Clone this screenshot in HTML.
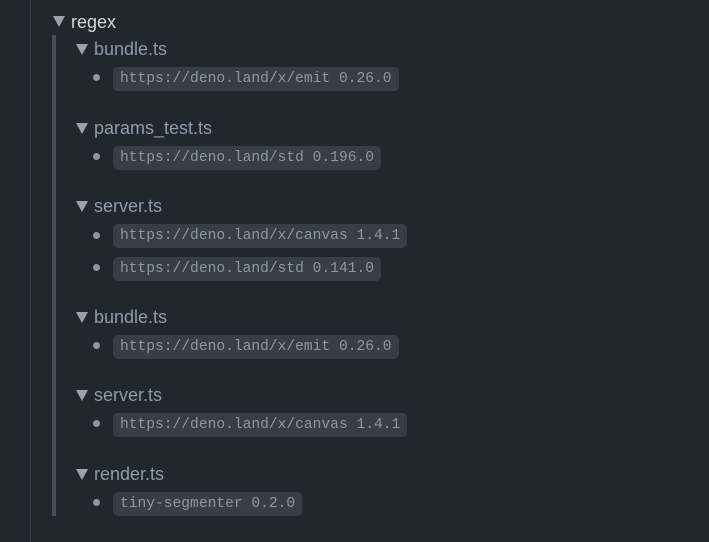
<!DOCTYPE html>
<html><head><meta charset="utf-8"><style>
html,body{margin:0;padding:0;width:709px;height:542px;background:#22262d;overflow:hidden;position:relative;font-family:"Liberation Sans",sans-serif}
.vl{position:absolute;left:30px;top:0;width:1px;height:542px;background:#3a3f47}
.bar{position:absolute;left:52px;top:35px;width:4px;height:481px;background:#4a4f57}
.tri{position:absolute;width:0;height:0;border-left:6px solid transparent;border-right:6px solid transparent;border-top:11px solid #9aa3ad}
.t{position:absolute;font-size:18px;line-height:20px;color:#8e9bab;white-space:nowrap}
.dot{position:absolute;width:7px;height:7px;border-radius:50%;background:#8f96a0}
.pill{position:absolute;left:113px;height:24px;line-height:24px;padding:0 7px;background:#383d46;border-radius:5px;font-family:"Liberation Mono",monospace;font-size:14.6px;color:#8d98a4;white-space:nowrap}
</style></head><body>
<div class="vl"></div>
<div class="bar"></div>
<div class="tri" style="left:53px;top:16px"></div>
<div class="t" style="left:71px;top:12px;color:#d3d7dc">regex</div>

<div class="tri" style="left:76px;top:44px"></div><div class="t" style="left:94px;top:39px">bundle.ts</div>
<div class="dot" style="left:93px;top:74px"></div><div class="pill" style="top:67px">https://deno.land/x/emit 0.26.0</div>

<div class="tri" style="left:76px;top:123px"></div><div class="t" style="left:94px;top:118px">params_test.ts</div>
<div class="dot" style="left:93px;top:153px"></div><div class="pill" style="top:146px">https://deno.land/std 0.196.0</div>

<div class="tri" style="left:76px;top:201px"></div><div class="t" style="left:94px;top:196px">server.ts</div>
<div class="dot" style="left:93px;top:232px"></div><div class="pill" style="top:224px">https://deno.land/x/canvas 1.4.1</div>
<div class="dot" style="left:93px;top:264px"></div><div class="pill" style="top:257px">https://deno.land/std 0.141.0</div>

<div class="tri" style="left:76px;top:312px"></div><div class="t" style="left:94px;top:307px">bundle.ts</div>
<div class="dot" style="left:93px;top:342px"></div><div class="pill" style="top:335px">https://deno.land/x/emit 0.26.0</div>

<div class="tri" style="left:76px;top:390px"></div><div class="t" style="left:94px;top:385px">server.ts</div>
<div class="dot" style="left:93px;top:420px"></div><div class="pill" style="top:413px">https://deno.land/x/canvas 1.4.1</div>

<div class="tri" style="left:76px;top:469px"></div><div class="t" style="left:94px;top:464px">render.ts</div>
<div class="dot" style="left:93px;top:499px"></div><div class="pill" style="top:492px">tiny-segmenter 0.2.0</div>
</body></html>
